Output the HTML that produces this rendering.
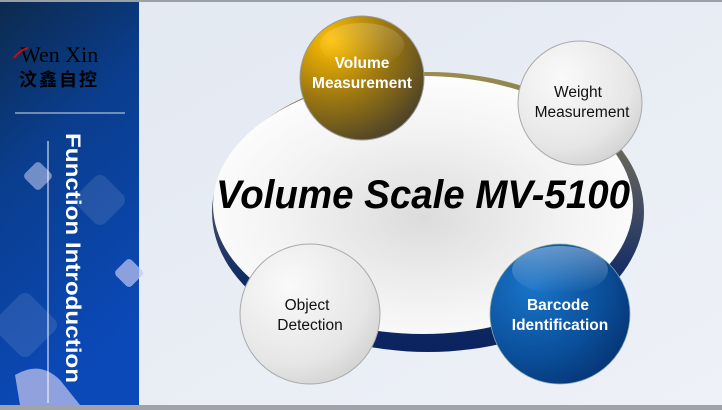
<!DOCTYPE html>
<html><head><meta charset="utf-8"><style>
html,body{margin:0;padding:0;}
body{width:722px;height:410px;overflow:hidden;background:#e6ebf3;font-family:"Liberation Sans",sans-serif;}
</style></head><body>
<svg width="722" height="410" viewBox="0 0 722 410" xmlns="http://www.w3.org/2000/svg" style="position:absolute;left:0;top:0">
<defs>
<linearGradient id="lp" x1="0" y1="0" x2="0.3" y2="1">
<stop offset="0" stop-color="#0c2a4e"/><stop offset="0.4" stop-color="#0a3d8c"/><stop offset="1" stop-color="#0b49b8"/></linearGradient>
<linearGradient id="bgR" x1="0" y1="0" x2="1" y2="1">
<stop offset="0" stop-color="#e2e8f1"/><stop offset="1" stop-color="#eef1f7"/></linearGradient>
<linearGradient id="ring" x1="0" y1="0" x2="0" y2="1">
<stop offset="0" stop-color="#9a8c50"/><stop offset="0.45" stop-color="#4a5060"/><stop offset="0.75" stop-color="#0f2a66"/><stop offset="1" stop-color="#0b2460"/></linearGradient>
<radialGradient id="face" cx="0.5" cy="0.55" r="0.6">
<stop offset="0" stop-color="#dcdcdc"/><stop offset="0.6" stop-color="#f4f4f4"/><stop offset="1" stop-color="#ffffff"/></radialGradient>
<radialGradient id="gold" cx="0.25" cy="0.2" r="0.9">
<stop offset="0" stop-color="#ffc000"/><stop offset="0.5" stop-color="#a07a10"/><stop offset="1" stop-color="#4a4028"/></radialGradient>
<radialGradient id="silver" cx="0.35" cy="0.3" r="0.8">
<stop offset="0" stop-color="#fafafa"/><stop offset="0.7" stop-color="#e6e6e6"/><stop offset="1" stop-color="#cfcfcf"/></radialGradient>
<radialGradient id="blue" cx="0.3" cy="0.3" r="0.85">
<stop offset="0" stop-color="#1a74c8"/><stop offset="0.6" stop-color="#0a4f9a"/><stop offset="1" stop-color="#06306e"/></radialGradient>
<linearGradient id="hl" x1="0" y1="0" x2="0" y2="1">
<stop offset="0" stop-color="#fff" stop-opacity="0.6"/><stop offset="1" stop-color="#fff" stop-opacity="0"/></linearGradient>
</defs>
<rect x="0" y="0" width="722" height="410" fill="url(#bgR)"/>
<rect x="0" y="0" width="722" height="2" fill="#9aa0a8"/>
<rect x="0" y="405" width="722" height="5" fill="#a0a4aa"/>
<rect x="0" y="2" width="139" height="403" fill="url(#lp)"/>
<g fill="#ffffff" opacity="0.1">
<rect x="80" y="180" width="40" height="40" rx="8" transform="rotate(45 100 200)"/>
<rect x="0" y="300" width="50" height="50" rx="8" transform="rotate(45 25 325)"/>
</g>
<rect x="27" y="165" width="22" height="22" rx="4" fill="#b8c4ee" opacity="0.6" transform="rotate(45 38 176)"/>
<rect x="118" y="262" width="22" height="22" rx="4" fill="#c0c8f2" opacity="0.7" transform="rotate(45 129 273)"/>
<path d="M15 375 Q40 360 60 380 L80 405 L20 405 Z" fill="#c9c8f0" opacity="0.7"/>
<text x="20" y="62" font-family="Liberation Serif,serif" font-size="22" fill="#000">Wen Xin</text>
<path d="M14 58 Q20 50 28 48" stroke="#c01010" stroke-width="2" fill="none"/>
<text x="19" y="86" font-family="'Noto Sans CJK SC',sans-serif" font-weight="bold" font-size="18" fill="#000" letter-spacing="2">汶鑫自控</text>
<line x1="15" y1="113" x2="125" y2="113" stroke="#b0bccc" stroke-width="1.2"/>
<line x1="48" y1="141" x2="48" y2="403" stroke="#ffffff" stroke-width="1"/>
<text transform="translate(66,133) rotate(90)" font-size="21" font-weight="bold" fill="#fff" textLength="250" lengthAdjust="spacingAndGlyphs">Function Introduction</text>
<ellipse cx="428" cy="212" rx="216" ry="140" fill="url(#ring)"/>
<ellipse cx="423" cy="205" rx="210" ry="129" fill="url(#face)"/>
<text x="216" y="208" font-size="40" font-weight="bold" font-style="italic" fill="#000" textLength="414" lengthAdjust="spacingAndGlyphs">Volume Scale MV-5100</text>
<g font-size="15.5">
<circle cx="362" cy="78" r="62" fill="url(#gold)" stroke="#999" stroke-width="1"/>
<ellipse cx="362" cy="45" rx="42" ry="22" fill="url(#hl)" opacity="0.3"/>
<text x="362" y="68" text-anchor="middle" font-weight="bold" fill="#fff">Volume</text>
<text x="362" y="88" text-anchor="middle" font-weight="bold" fill="#fff">Measurement</text>
<circle cx="580" cy="103" r="62" fill="url(#silver)" stroke="#aaa" stroke-width="1"/>
<text x="578" y="97" text-anchor="middle" fill="#111">Weight</text>
<text x="582" y="117" text-anchor="middle" fill="#111">Measurement</text>
<circle cx="310" cy="314" r="70" fill="url(#silver)" stroke="#aaa" stroke-width="1"/>
<text x="307" y="310" text-anchor="middle" fill="#111">Object</text>
<text x="310" y="330" text-anchor="middle" fill="#111">Detection</text>
<circle cx="560" cy="314" r="70" fill="url(#blue)" stroke="#8aa" stroke-width="0.8"/>
<ellipse cx="560" cy="270" rx="48" ry="24" fill="url(#hl)" opacity="0.6"/>
<text x="558" y="310" text-anchor="middle" font-weight="bold" fill="#fff">Barcode</text>
<text x="560" y="330" text-anchor="middle" font-weight="bold" fill="#fff">Identification</text>
</g>
</svg>
</body></html>
